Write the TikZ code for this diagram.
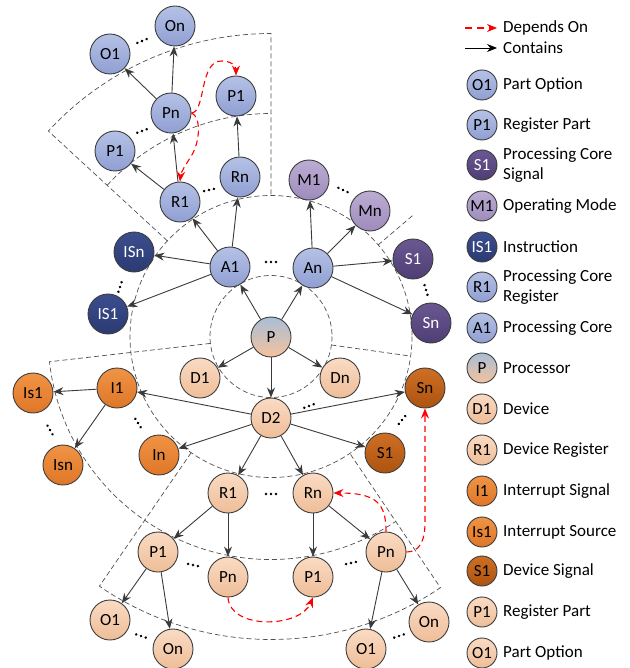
\documentclass[tikz,border=0pt]{standalone}
\usepackage{fontspec}
\setmainfont{Carlito}
\usetikzlibrary{arrows.meta,calc}
\definecolor{ndline}{HTML}{3C3C3C}
\definecolor{arr}{HTML}{3A3A3A}
\definecolor{dashc}{HTML}{505050}
\definecolor{bluT}{HTML}{B5C1E6}
\definecolor{bluB}{HTML}{8F9FD2}
\definecolor{purT}{HTML}{6A5892}
\definecolor{purB}{HTML}{4E3E74}
\definecolor{lpuT}{HTML}{BCADD3}
\definecolor{lpuB}{HTML}{9E8BBC}
\definecolor{navT}{HTML}{3C4E8E}
\definecolor{navB}{HTML}{2B3A72}
\definecolor{peaT}{HTML}{FADBC3}
\definecolor{peaB}{HTML}{EEBD98}
\definecolor{oraT}{HTML}{F09445}
\definecolor{oraB}{HTML}{DF7628}
\definecolor{broT}{HTML}{CF6F25}
\definecolor{broB}{HTML}{AC530F}
\definecolor{pT}{HTML}{A9BED8}
\definecolor{pB}{HTML}{F4C29C}
\definecolor{depred}{HTML}{FF0000}
\begin{document}
\begin{tikzpicture}[x=1pt,y=-1pt,
  nd/.style={circle, draw=ndline, line width=0.9pt, minimum size=40pt, inner sep=0pt, font=\fontsize{17}{20}\selectfont},
  lgn/.style={minimum size=30pt},
  blu/.style={nd, top color=bluT, bottom color=bluB},
  pur/.style={nd, top color=purT, bottom color=purB, text=white},
  lpu/.style={nd, top color=lpuT, bottom color=lpuB},
  nav/.style={nd, top color=navT, bottom color=navB, text=white},
  pea/.style={nd, top color=peaT, bottom color=peaB},
  ora/.style={nd, top color=oraT, bottom color=oraB},
  bro/.style={nd, top color=broT, bottom color=broB},
  proc/.style={nd, top color=pT, bottom color=pB},
  con/.style={draw=arr, line width=0.9pt, -{Stealth[length=10pt,width=8pt]}},
  dep/.style={draw=depred, line width=1.1pt, dash pattern=on 6pt off 4pt, -{Stealth[length=10pt,width=8pt]}},
  dsh/.style={draw=dashc, line width=0.7pt, dash pattern=on 5pt off 3pt},
  lgt/.style={anchor=west, inner sep=0pt, align=left, font=\fontsize{17}{20}\selectfont},
  pics/dts/.style={code={\fill[black] (-5,0) circle[radius=1.4] (0,0) circle[radius=1.4] (5,0) circle[radius=1.4];}}
]
\useasboundingbox (0,0) rectangle (629,668);
\coordinate (C) at (271,336.5);
% dashed geometry
\draw[dsh] (C) circle[radius=61];
\draw[dsh] (C) circle[radius=141];
\draw[dsh] ($(C)+(-137.3:141)$) -- ($(C)+(-137.3:303)$) arc[start angle=-137.3, end angle=-90, radius=303] -- ($(C)+(-90:141)$);
\draw[dsh] ($(C)+(-137.3:223)$) arc[start angle=-137.3, end angle=-90, radius=223];
\draw[dsh] ($(C)+(173.5:61)$) -- ($(C)+(173.5:223)$) arc[start angle=173.5, end angle=56, radius=223];
\draw[dsh] ($(C)+(8:61)$) -- ($(C)+(8:141)$);
\draw[dsh] ($(C)+(124.5:141)$) -- ($(C)+(124.5:303)$) arc[start angle=124.5, end angle=56, radius=303] -- ($(C)+(56:141)$);
\draw[dsh] ($(C)+(-40.5:141)$) -- ($(C)+(-40.5:187)$);

% nodes top
\node[blu] (On) at (175,26) {On};
\node[blu] (O1) at (110,54) {O1};
\node[blu] (Pn) at (171,113) {Pn};
\node[blu] (P1t) at (236,96) {P1};
\node[blu] (P1l) at (115,151) {P1};
\node[blu] (R1t) at (180,202) {R1};
\node[blu] (Rnt) at (240,177) {Rn};
\node[lpu] (M1) at (309,180) {M1};
\node[lpu] (Mn) at (370,211) {Mn};
\node[blu] (A1) at (230,267) {A1};
\node[blu] (An) at (313,268) {An};
\node[nav] (ISn) at (134,252) {ISn};
\node[nav] (IS1) at (108,314) {IS1};
\node[pur] (S1p) at (413,259) {S1};
\node[pur] (Snp) at (431,323) {Sn};
\node[proc] (P) at (271,337) {P};
% middle
\node[pea] (D1) at (200,378) {D1};
\node[pea] (Dn) at (340,378) {Dn};
\node[pea] (D2) at (271,418) {D2};
\node[ora] (I1) at (117,388) {I1};
\node[ora] (Is1) at (33,393) {Is1};
\node[ora] (Isn) at (63,465) {Isn};
\node[ora] (In) at (159,455) {In};
\node[bro] (S1b) at (385,453) {S1};
\node[bro] (Snb) at (425,388) {Sn};
% bottom
\node[pea] (R1b) at (228,493) {R1};
\node[pea] (Rnb) at (313,493) {Rn};
\node[pea] (P1bl) at (158,552) {P1};
\node[pea] (Pnb) at (228,577) {Pn};
\node[pea] (P1b) at (313,577) {P1};
\node[pea] (Pnbr) at (386,552) {Pn};
\node[pea] (O1bl) at (110,620) {O1};
\node[pea] (Onbl) at (173,649) {On};
\node[pea] (O1br) at (366,649) {O1};
\node[pea] (Onbr) at (429,622) {On};

% contains edges
\draw[con] (P) -- (A1);
\draw[con] (P) -- (An);
\draw[con] (P) -- (D1);
\draw[con] (P) -- (Dn);
\draw[con] (P) -- (D2);
\draw[con] (A1) -- (R1t);
\draw[con] (A1) -- (Rnt);
\draw[con] (A1) -- (ISn);
\draw[con] (A1) -- (IS1);
\draw[con] (An) -- (M1);
\draw[con] (An) -- (Mn);
\draw[con] (An) -- (S1p);
\draw[con] (An) -- (Snp);
\draw[con] (R1t) -- (P1l);
\draw[con] (R1t) -- (Pn);
\draw[con] (Rnt) -- (P1t);
\draw[con] (Pn) -- (O1);
\draw[con] (Pn) -- (On);
\draw[con] (D2) -- (I1);
\draw[con] (D2) -- (In);
\draw[con] (D2) -- (Snb);
\draw[con] (D2) -- (S1b);
\draw[con] (D2) -- (R1b);
\draw[con] (D2) -- (Rnb);
\draw[con] (I1) -- (Is1);
\draw[con] (I1) -- (Isn);
\draw[con] (R1b) -- (P1bl);
\draw[con] (R1b) -- (Pnb);
\draw[con] (Rnb) -- (P1b);
\draw[con] (Rnb) -- (Pnbr);
\draw[con] (P1bl) -- (O1bl);
\draw[con] (P1bl) -- (Onbl);
\draw[con] (Pnbr) -- (O1br);
\draw[con] (Pnbr) -- (Onbr);

% depends-on edges
\draw[dep] (Pn.east) .. controls (206,112) and (199,60) .. (222,61) .. controls (231,61) and (236,66) .. (P1t.north);
\draw[dep] (Pn.east) .. controls (201,116) and (201,142) .. (190,158) .. controls (185,166) and (181,172) .. (R1t.north);
\draw[dep] (Pnb.south) .. controls (230,630) and (300,628) .. (P1b.south);
\draw[dep] (Pnbr.north) .. controls (386,504) and (377,493) .. (Rnb.east);
\coordinate (bend) at (425,522);
\draw[dep] (Pnbr.east) .. controls (419,552) and (425,542) .. (bend) -- (Snb.south);

% ellipses
\pic[rotate=22] at (142,41) {dts};
\pic[rotate=20] at (142,131) {dts};
\pic[rotate=12] at (209,190) {dts};
\pic[rotate=-25] at (343,190) {dts};
\pic at (271,262) {dts};
\pic[rotate=72] at (120,287) {dts};
\pic[rotate=-73] at (426,290) {dts};
\pic[rotate=20] at (309,406) {dts};
\pic[rotate=-58] at (138,423) {dts};
\pic[rotate=-60] at (50,430) {dts};
\pic[rotate=50] at (402,420) {dts};
\pic at (271,494) {dts};
\pic[rotate=-12] at (193,565) {dts};
\pic[rotate=12] at (351,563) {dts};
\pic[rotate=-18] at (141,636) {dts};
\pic[rotate=18] at (399,636) {dts};

% legend
\coordinate (la1) at (465,28);
\coordinate (la2) at (497,28);
\draw[dep, dash pattern=on 7pt off 5pt] (la1) -- (la2);
\node[lgt] (lt1) at (503,28) {Depends On};
\coordinate (lb1) at (465,48);
\coordinate (lb2) at (497,48);
\draw[con, draw=black] (lb1) -- (lb2);
\node[lgt] (lt2) at (503,48) {Contains};

\node[blu,lgn] (L1) at (482,85) {O1};  \node[lgt] at (503,85) {Part Option};
\node[blu,lgn] (L2) at (482,125) {P1}; \node[lgt] at (503,125) {Register Part};
\node[pur,lgn] (L3) at (482,165) {S1}; \node[lgt] at (503,165) {Processing Core\\Signal};
\node[lpu,lgn] (L4) at (482,206) {M1}; \node[lgt] at (503,206) {Operating Mode};
\node[nav,lgn] (L5) at (482,247) {IS1}; \node[lgt] at (503,247) {Instruction};
\node[blu,lgn] (L6) at (482,287) {R1}; \node[lgt] at (503,287) {Processing Core\\Register};
\node[blu,lgn] (L7) at (482,328) {A1}; \node[lgt] at (503,328) {Processing Core};
\node[proc,lgn] (L8) at (482,368) {P}; \node[lgt] at (503,368) {Processor};
\node[pea,lgn] (L9) at (482,409) {D1}; \node[lgt] at (503,409) {Device};
\node[pea,lgn] (L10) at (482,450) {R1}; \node[lgt] at (503,450) {Device Register};
\node[ora,lgn] (L11) at (482,491) {I1}; \node[lgt] at (503,491) {Interrupt Signal};
\node[ora,lgn] (L12) at (482,532) {Is1}; \node[lgt] at (503,532) {Interrupt Source};
\node[bro,lgn] (L13) at (482,571) {S1}; \node[lgt] at (503,571) {Device Signal};
\node[pea,lgn] (L14) at (482,612) {P1}; \node[lgt] at (503,612) {Register Part};
\node[pea,lgn] (L15) at (482,653) {O1}; \node[lgt] at (503,653) {Part Option};
\end{tikzpicture}
\end{document}
